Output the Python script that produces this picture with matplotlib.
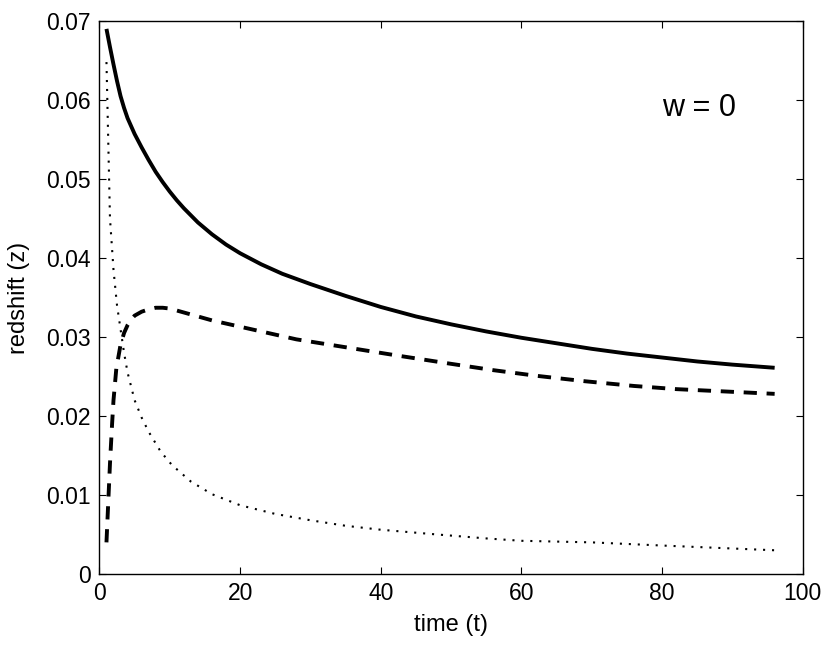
import numpy as np
import matplotlib.pyplot as plt

plt.rcParams['font.family'] = ['Liberation Sans', 'DejaVu Sans']

# solid curve
t_solid = [1, 1.5, 2, 2.5, 3, 3.5, 4, 4.5, 5, 6, 7, 8, 9, 10, 11, 12, 14, 16,
           18, 20, 23, 26, 30, 35, 40, 45, 50, 55, 60, 65, 70, 75, 80, 85,
           90, 96]
z_solid = [0.0690, 0.0667, 0.0645, 0.0624, 0.0605, 0.0590, 0.0577, 0.0567,
           0.0557, 0.0540, 0.0524, 0.0509, 0.0496, 0.0484, 0.0473, 0.0463,
           0.0445, 0.0430, 0.0417, 0.0406, 0.0392, 0.0380, 0.0367, 0.0352,
           0.0338, 0.0326, 0.0316, 0.0307, 0.0299, 0.0292, 0.0285, 0.0279,
           0.0274, 0.0269, 0.0265, 0.0261]

# dashed curve
t_dash = [1, 1.2, 1.5, 1.8, 2, 2.4, 3, 3.5, 4, 4.5, 5, 6, 7, 8, 9, 10, 12,
          14, 16, 18, 21, 24, 28, 35, 42, 50, 56, 62, 69, 76, 82, 89, 96]
z_dash = [0.0040, 0.0080, 0.0140, 0.0190, 0.0220, 0.0260, 0.0290, 0.0305,
          0.0315, 0.0322, 0.0327, 0.0332, 0.0335, 0.0337, 0.0337, 0.0336,
          0.0331, 0.0326, 0.0321, 0.0317, 0.0311, 0.0305, 0.0297, 0.0287,
          0.0277, 0.0266, 0.0258, 0.0251, 0.0244, 0.0238, 0.0234, 0.0231,
          0.0228]

# dotted curve
t_dot = [1, 1.5, 2, 2.5, 3, 3.5, 4, 5, 6, 7, 8.7, 10.3, 13, 16, 20, 25, 30,
         35, 40, 48, 55, 60, 70, 80, 88, 96]
z_dot = [0.0648, 0.0450, 0.0385, 0.0340, 0.0310, 0.0280, 0.0255, 0.0220,
         0.0198, 0.0180, 0.0155, 0.0138, 0.0117, 0.0101, 0.0087, 0.0076,
         0.0068, 0.0061, 0.0056, 0.0050, 0.0045, 0.0042, 0.0040, 0.0036,
         0.0033, 0.0030]

fig = plt.figure(figsize=(8.3, 6.46), dpi=100)
ax = fig.add_axes([0.1198, 0.1115, 0.8474, 0.856])

ax.plot(t_solid, z_solid, color='black', lw=2.8, solid_capstyle='butt')
ld, = ax.plot(t_dash, z_dash, color='black', lw=2.8, dash_capstyle='butt')
ld.set_dashes([3.4, 2.5])
lt, = ax.plot(t_dot, z_dot, color='black', lw=1.5, dash_capstyle='butt')
lt.set_dashes([1.0, 3.3])

ax.text(80, 0.059, 'w = 0', fontsize=22, va='center', ha='left')

ax.set_xlim(0, 100)
ax.set_ylim(0, 0.07)
ax.set_xticks([0, 20, 40, 60, 80, 100])
ax.set_yticks([0, 0.01, 0.02, 0.03, 0.04, 0.05, 0.06, 0.07])
ax.set_yticklabels(['0', '0.01', '0.02', '0.03', '0.04', '0.05', '0.06', '0.07'])
ax.tick_params(direction='in', length=5, width=0.8, top=True, right=True,
               labelsize=16.5, pad=6)
for s in ax.spines.values():
    s.set_linewidth(1.0)

ax.set_xlabel('time (t)', fontsize=17, labelpad=6)
ax.set_ylabel('redshift (z)', fontsize=17, labelpad=12)

fig.savefig('out.png', dpi=100)
